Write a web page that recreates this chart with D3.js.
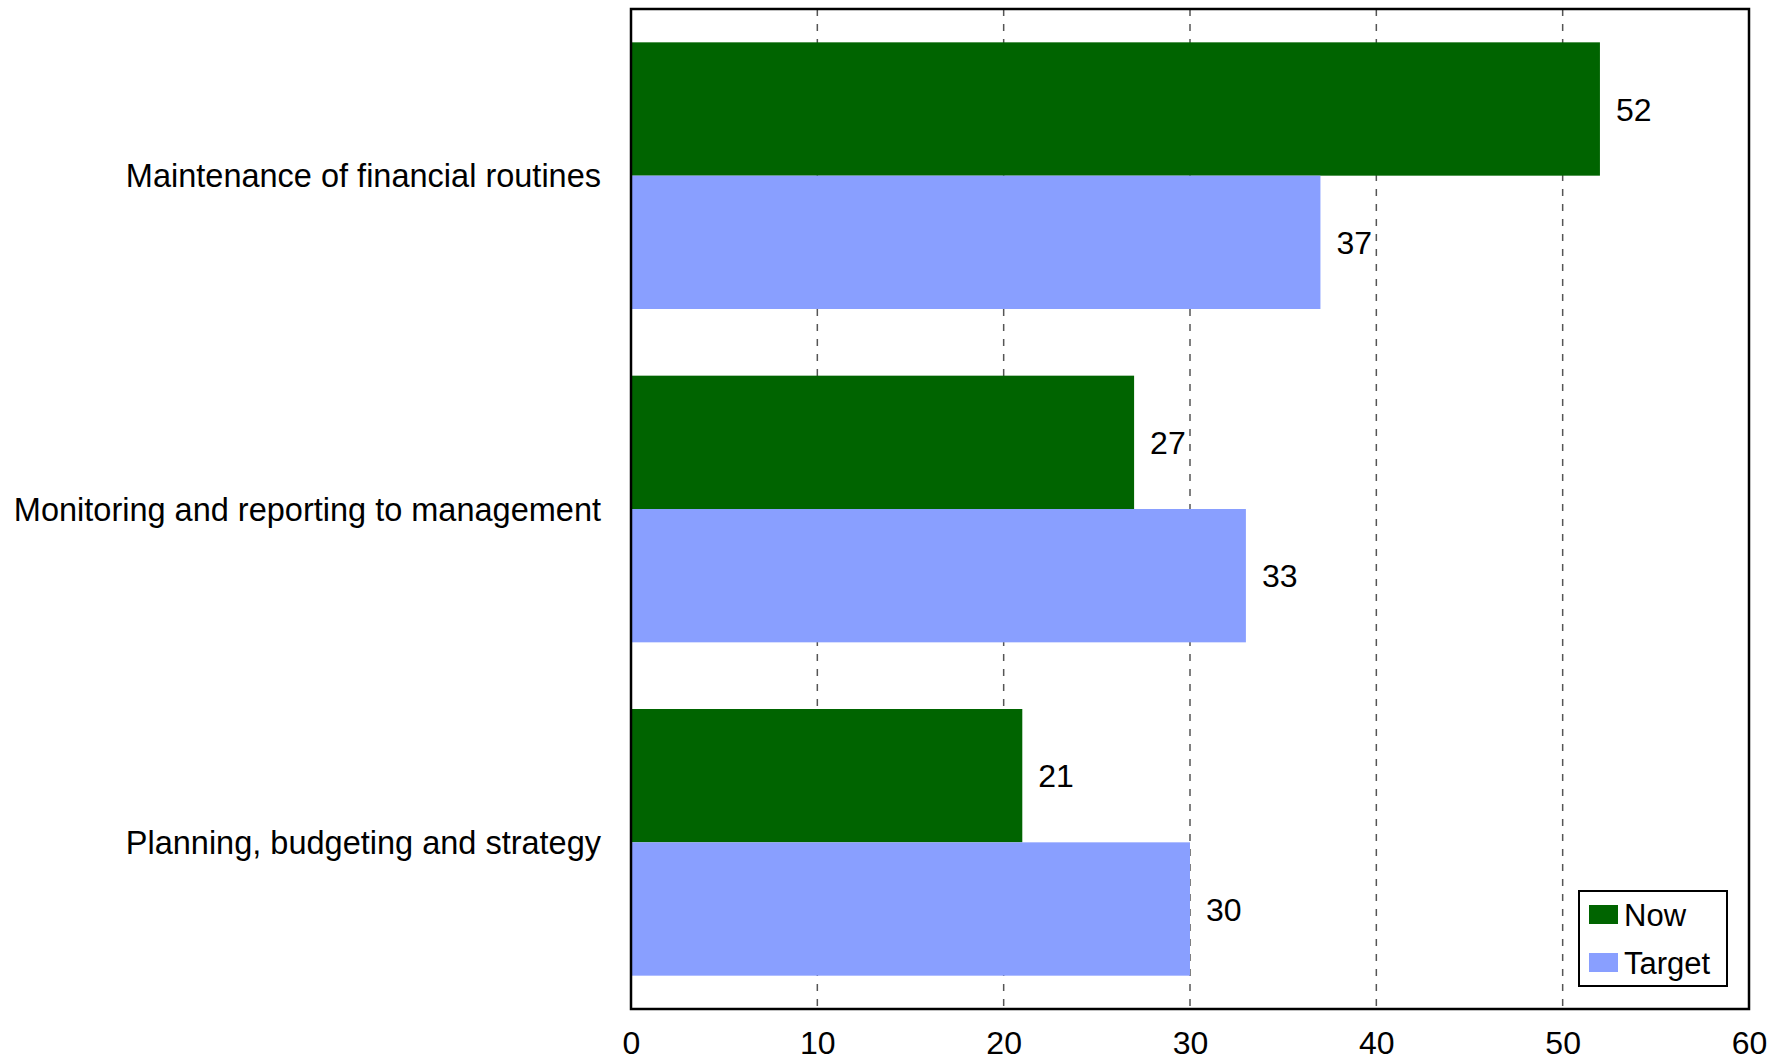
<!DOCTYPE html>
<html>
<head>
<meta charset="utf-8">
<script src="https://cdn.jsdelivr.net/npm/d3@7"></script>
<style>
  html, body { margin: 0; padding: 0; background: #fff; }
  svg text { font-family: "Liberation Sans", Arial, sans-serif; fill: #000; }
</style>
</head>
<body>
<svg id="chart" width="1785" height="1060"></svg>
<script>
// Survey areas, top to bottom
const categories = [
  "Maintenance of financial routines",
  "Monitoring and reporting to management",
  "Planning, budgeting and strategy"
];
const seriesNames = ["Now", "Target"];
const nowValues = [52, 27, 21];
const targetValues = [37, 33, 30];
const xTicks = [0, 10, 20, 30, 40, 50, 60];

const colors = { Now: "#006400", Target: "#899fff" };

const svg = d3.select("#chart");
const margin = { left: 631, right: 36, top: 9, bottom: 51 };
const W = 1785, H = 1060;
const plotW = W - margin.left - margin.right;
const plotH = H - margin.top - margin.bottom;

const g = svg.append("g").attr("transform", `translate(${margin.left},${margin.top})`);

const x = d3.scaleLinear().domain([0, 60]).range([0, plotW]);
const y = d3.scaleBand().domain(categories).range([0, plotH]).paddingInner(0.2).paddingOuter(0.1);
const ySub = d3.scaleBand().domain(seriesNames).range([0, y.bandwidth()]);

// dashed vertical gridlines
g.append("g").selectAll("line")
  .data(xTicks.filter(t => t > 0 && t < 60))
  .join("line")
  .attr("x1", d => x(d)).attr("x2", d => x(d))
  .attr("y1", 0).attr("y2", plotH)
  .attr("stroke", "#555").attr("stroke-width", 1.5)
  .attr("stroke-dasharray", "7,8");

const rows = categories.map((c, i) => ({ cat: c, Now: nowValues[i], Target: targetValues[i] }));

const groups = g.append("g").selectAll("g")
  .data(rows).join("g")
  .attr("transform", d => `translate(0,${y(d.cat)})`);

groups.selectAll("rect")
  .data(d => seriesNames.map(s => ({ s, v: d[s] })))
  .join("rect")
  .attr("x", 0)
  .attr("y", d => ySub(d.s))
  .attr("width", d => x(d.v))
  .attr("height", ySub.bandwidth())
  .attr("fill", d => colors[d.s]);

groups.selectAll("text.val")
  .data(d => seriesNames.map(s => ({ s, v: d[s] })))
  .join("text")
  .attr("class", "val")
  .attr("x", d => x(d.v) + 16)
  .attr("y", d => ySub(d.s) + ySub.bandwidth() / 2)
  .attr("dy", "0.36em")
  .attr("font-size", 32)
  .text(d => d.v);

// category labels
g.append("g").selectAll("text")
  .data(categories).join("text")
  .attr("x", -30)
  .attr("y", d => y(d) + y.bandwidth() / 2)
  .attr("dy", "0.36em")
  .attr("text-anchor", "end")
  .attr("font-size", 32.5)
  .text(d => d);

// bottom axis labels
const xAxis = d3.axisBottom(x).tickValues(xTicks).tickSize(0).tickPadding(22);
const ax = g.append("g").attr("transform", `translate(0,${plotH})`).call(xAxis);
ax.select(".domain").remove();
ax.selectAll("text").attr("font-size", 32).attr("font-family", "Liberation Sans, Arial, sans-serif").attr("fill", "#000");

// frame
g.append("rect")
  .attr("x", 0).attr("y", 0).attr("width", plotW).attr("height", plotH)
  .attr("fill", "none").attr("stroke", "#000").attr("stroke-width", 2.5);

// legend, anchored to the lower right corner of the plot
const lgW = 148, lgH = 95;
const lg = g.append("g").attr("transform", `translate(${plotW - 22 - lgW},${plotH - 23 - lgH})`);
lg.append("rect").attr("x", 0).attr("y", 0).attr("width", lgW).attr("height", lgH)
  .attr("fill", "#fff").attr("stroke", "#000").attr("stroke-width", 2);
seriesNames.forEach((s, i) => {
  lg.append("rect").attr("x", 10).attr("y", 14 + i * 48).attr("width", 29).attr("height", 19)
    .attr("fill", colors[s]);
  lg.append("text").attr("x", 45).attr("y", 24 + i * 48).attr("dy", "0.36em")
    .attr("font-size", 31).text(s);
});
</script>
</body>
</html>
